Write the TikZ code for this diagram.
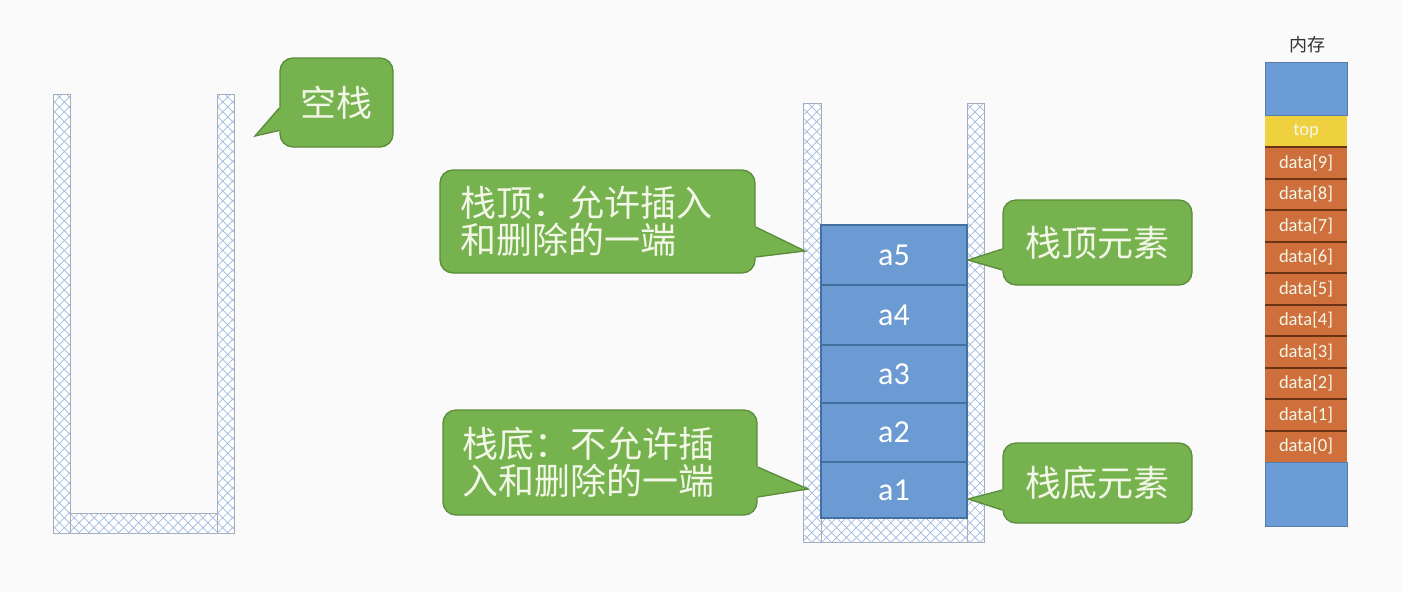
\documentclass[tikz,border=0pt]{standalone}
\usepackage{fontspec}
\setmainfont{Carlito}
\newfontfamily\cjk{Noto Sans CJK SC}
\usetikzlibrary{patterns.meta,calc}
\definecolor{bg}{HTML}{FAFAFA}
\definecolor{wallgray}{HTML}{A4ACB8}
\definecolor{hatchblue}{HTML}{9DB9E0}
\definecolor{cfillc}{HTML}{76B24E}
\definecolor{clinec}{HTML}{5A8C3A}
\definecolor{ctext}{HTML}{F2F7E8}
\definecolor{boxblue}{HTML}{6B9BD2}
\definecolor{boxline}{HTML}{44709F}
\definecolor{memblue}{HTML}{6C9CD5}
\definecolor{memyellow}{HTML}{EFD140}
\definecolor{memorange}{HTML}{CF6F3C}
\definecolor{memsep}{HTML}{6B3414}
\tikzset{
  wall/.style={draw=wallgray, line width=1pt, fill=white,
    postaction={pattern={Hatch[angle=45,distance=7pt,line width=0.7pt]}, pattern color=hatchblue}},
  callbox/.style={draw=clinec, line width=1.3pt, fill=cfillc, rounded corners=13pt,
    text=ctext, font=\cjk\fontsize{36}{37}\selectfont, inner sep=0pt},
  ptrfill/.style={fill=cfillc},
  ptrline/.style={draw=clinec, line width=1.3pt, line join=miter},
  elem/.style={draw=boxline, line width=1.2pt, fill=boxblue, text=white,
    minimum width=146pt, inner sep=0pt, font=\fontsize{32}{36}\selectfont},
  memcell/.style={minimum width=82pt, minimum height=31.5pt, inner sep=0pt,
    text=ctext, font=\fontsize{18.5}{20}\selectfont},
}
\begin{document}
\begin{tikzpicture}[x=1pt,y=-1pt]
\path[fill=bg] (0,0) rectangle (1402,592);
\useasboundingbox (0,0) rectangle (1402,592);

% ---------- empty stack ----------
\path[wall] (70,513) rectangle (217,533);
\path[wall] (53,94) rectangle (70,533);
\path[wall] (217,94) rectangle (234,533);

% ---------- stack with elements ----------
\path[wall] (821,518) rectangle (967,542);
\path[wall] (803,103) rectangle (821,542);
\path[wall] (967,103) rectangle (984,542);

\node[elem, minimum height=60pt] (a5) at (894,255) {a5};
\node[elem, minimum height=60pt] (a4) at (894,315) {a4};
\node[elem, minimum height=58pt] (a3) at (894,374) {a3};
\node[elem, minimum height=59pt] (a2) at (894,432.5) {a2};
\node[elem, minimum height=56pt] (a1) at (894,490) {a1};

% ---------- callouts ----------
% 空栈
\node[callbox, minimum width=113pt, minimum height=89pt] (kz) at (336.5,102.5) {空栈};
\coordinate (kzt) at (255,136);
\coordinate (kzb1) at ($(kz.west)+(0,5.5)$);
\coordinate (kzb2) at ($(kz.west)+(0,28)$);
\fill[ptrfill] ($(kzb1)+(4,0)$) -- ($(kzb1)+(-0.7,0)$) -- (kzt) -- ($(kzb2)+(-0.7,0)$) -- ($(kzb2)+(4,0)$) -- cycle;
\draw[ptrline] (kzb1) -- (kzt) -- (kzb2);

% 栈顶 callout
\node[callbox, minimum width=315pt, minimum height=103pt, text width=275pt, align=left] (ct) at (597.5,221.5)
  {栈顶：允许插入\\和删除的一端};
\coordinate (ctt) at (805,251);
\coordinate (ctb1) at ($(ct.east)+(0,5.5)$);
\coordinate (ctb2) at ($(ct.east)+(0,35.5)$);
\fill[ptrfill] ($(ctb1)+(-4,0)$) -- ($(ctb1)+(0.7,0)$) -- (ctt) -- ($(ctb2)+(0.7,0)$) -- ($(ctb2)+(-4,0)$) -- cycle;
\draw[ptrline] (ctb1) -- (ctt) -- (ctb2);

% 栈底 callout
\node[callbox, minimum width=314pt, minimum height=105pt, text width=276pt, align=left] (cb) at (600,462.5)
  {栈底：不允许插\\入和删除的一端};
\coordinate (cbt) at (808,489);
\coordinate (cbb1) at ($(cb.east)+(0,4.5)$);
\coordinate (cbb2) at ($(cb.east)+(0,34.5)$);
\fill[ptrfill] ($(cbb1)+(-4,0)$) -- ($(cbb1)+(0.7,0)$) -- (cbt) -- ($(cbb2)+(0.7,0)$) -- ($(cbb2)+(-4,0)$) -- cycle;
\draw[ptrline] (cbb1) -- (cbt) -- (cbb2);

% 栈顶元素
\node[callbox, minimum width=189pt, minimum height=85pt] (ce) at (1097.5,242.5) {栈顶元素};
\coordinate (cet) at (968,260);
\coordinate (ceb1) at ($(ce.west)+(0,6.5)$);
\coordinate (ceb2) at ($(ce.west)+(0,27.5)$);
\fill[ptrfill] ($(ceb1)+(4,0)$) -- ($(ceb1)+(-0.7,0)$) -- (cet) -- ($(ceb2)+(-0.7,0)$) -- ($(ceb2)+(4,0)$) -- cycle;
\draw[ptrline] (ceb1) -- (cet) -- (ceb2);

% 栈底元素
\node[callbox, minimum width=189pt, minimum height=80pt] (cf) at (1097.5,483) {栈底元素};
\coordinate (cft) at (968,499);
\coordinate (cfb1) at ($(cf.west)+(0,7)$);
\coordinate (cfb2) at ($(cf.west)+(0,27)$);
\fill[ptrfill] ($(cfb1)+(4,0)$) -- ($(cfb1)+(-0.7,0)$) -- (cft) -- ($(cfb2)+(-0.7,0)$) -- ($(cfb2)+(4,0)$) -- cycle;
\draw[ptrline] (cfb1) -- (cft) -- (cfb2);

% ---------- memory ----------
\node[font=\cjk\fontsize{18}{20}\selectfont, text=black!80] (mt) at (1307,45) {内存};
\node[memcell, fill=memblue, draw=memblue!80!black, line width=0.6pt, minimum height=53pt] (mtop) at (1306,88.5) {};
\node[memcell, fill=memyellow] (mtp) at (1306,131.25) {top};
\foreach \i [count=\k from 0] in {9,8,7,6,5,4,3,2,1,0} {
  \node[memcell, fill=memorange] (d\i) at (1306,{162.75+31.5*\k}) {data[\i]};
}
\node[memcell, fill=memblue, draw=memblue!80!black, line width=0.6pt, minimum height=64pt] (mbot) at (1306,494) {};
\foreach \i/\j in {9/8,8/7,7/6,6/5,5/4,4/3,3/2,2/1,1/0} {
  \draw[memsep, line width=1.6pt] (d\i.south west) -- (d\i.south east);
}
\draw[memsep, line width=1.6pt] (mtp.south west) -- (mtp.south east);
\end{tikzpicture}
\end{document}
